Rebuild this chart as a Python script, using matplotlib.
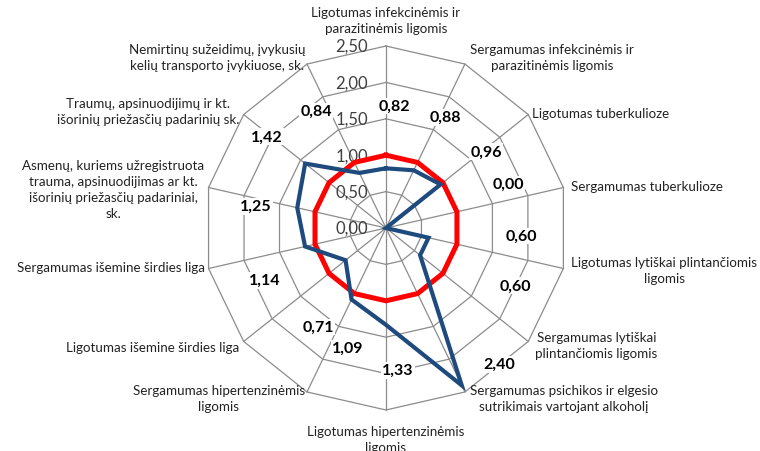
import numpy as np
import matplotlib
matplotlib.use("Agg")
import matplotlib.pyplot as plt

plt.rcParams['font.family'] = ['Lato', 'DejaVu Sans']

# category labels (clockwise from top)
categories = [
    "Ligotumas infekcinėmis ir\nparazitinėmis ligomis",
    "Sergamumas infekcinėmis ir\nparazitinėmis ligomis",
    "Ligotumas tuberkulioze",
    "Sergamumas tuberkulioze",
    "Ligotumas lytiškai plintančiomis\nligomis",
    "Sergamumas lytiškai\nplintančiomis ligomis",
    "Sergamumas psichikos ir elgesio\nsutrikimais vartojant alkoholį",
    "Ligotumas hipertenzinėmis\nligomis",
    "Sergamumas hipertenzinėmis\nligomis",
    "Ligotumas išemine širdies liga",
    "Sergamumas išemine širdies liga",
    "Asmenų, kuriems užregistruota\ntrauma, apsinuodijimas ar kt.\nišorinių priežasčių padariniai,\nsk.",
    "Traumų, apsinuodijimų ir kt.\nišorinių priežasčių padarinių sk.",
    "Nemirtinų sužeidimų, įvykusių\nkelių transporto įvykiuose, sk.",
]
values = [0.82, 0.88, 0.96, 0.00, 0.60, 0.60, 2.40, 1.33, 1.09, 0.71, 1.14, 1.25, 1.42, 0.84]
reference = [1.00] * len(categories)
rings = [0.0, 0.5, 1.0, 1.5, 2.0, 2.5]
ring_labels = ["0,00", "0,50", "1,00", "1,50", "2,00", "2,50"]

# where Excel put the value labels: (angle in degrees, radius)
label_pos = [(3.8, 1.68), (28.4, 1.73), (52.8, 1.73), (70.2, 1.78), (93.4, 1.86),
             (114.0, 1.95), (140.3, 2.43), (175.2, 1.96), (197.6, 1.73), (214.5, 1.65),
             (246.7, 1.81), (279.5, 1.82), (307.4, 2.06), (329.1, 1.87)]
# category label placement: offset in pixels from the outer vertex, alignment
cat_place = [((0, 26), 'center'), ((5, 7), 'left'), ((4, 2), 'left'), ((8, 2), 'left'),
             ((8, -1), 'left'), ((7, -4), 'left'), ((5, -6), 'left'), ((0, -29), 'center'),
             ((-2, -6), 'right'), ((-4, -6), 'right'), ((-4, 2), 'right'), ((-4, -1), 'right'),
             ((-4, 4), 'right'), ((-2, 7), 'right')]

n = len(categories)
angles = np.linspace(0, 2 * np.pi, n, endpoint=False)
closed = np.append(angles, angles[0])

fig = plt.figure(figsize=(7.6, 4.52), dpi=100)
ax = fig.add_axes([0.2684, 0.0907, 0.4789, 0.8053], projection='polar')
ax.set_theta_offset(np.pi / 2)
ax.set_theta_direction(-1)
ax.set_ylim(0, 2.5)
ax.grid(False)
ax.spines['polar'].set_visible(False)
ax.set_xticks([])
ax.set_yticks([])

grid_color = '#8c8c8c'
for r in rings[1:]:
    ax.plot(closed, [r] * (n + 1), color=grid_color, lw=0.9, zorder=1, clip_on=False)
for a in angles:
    ax.plot([a, a], [0, rings[-1]], color=grid_color, lw=0.9, zorder=1, clip_on=False)

for r, lab in zip(rings, ring_labels):
    ax.annotate(lab, xy=(0, r), xytext=(-18, 0), textcoords='offset pixels',
                ha='right', va='center', fontsize=12, color='#404040', zorder=2)

ax.plot(closed, reference + reference[:1], color='#ff0000', lw=3.6, zorder=3,
        solid_joinstyle='miter')
ax.plot(closed, values + values[:1], color='#1f4a7e', lw=3.0, zorder=4,
        solid_joinstyle='miter')

for v, (deg, rad) in zip(values, label_pos):
    ax.text(np.deg2rad(deg), rad, f"{v:.2f}".replace('.', ','), ha='center', va='center',
            fontsize=11.5, fontweight='bold', color='black', zorder=5,
            bbox=dict(facecolor='white', edgecolor='none', pad=1.0))

for a, lab, (off, ha) in zip(angles, categories, cat_place):
    ax.annotate(lab, xy=(a, rings[-1]), xytext=off, textcoords='offset pixels',
                ha=ha, va='center', multialignment='center', fontsize=9.6,
                color='#222222', linespacing=1.4, annotation_clip=False)

fig.savefig('out.png', dpi=100)
